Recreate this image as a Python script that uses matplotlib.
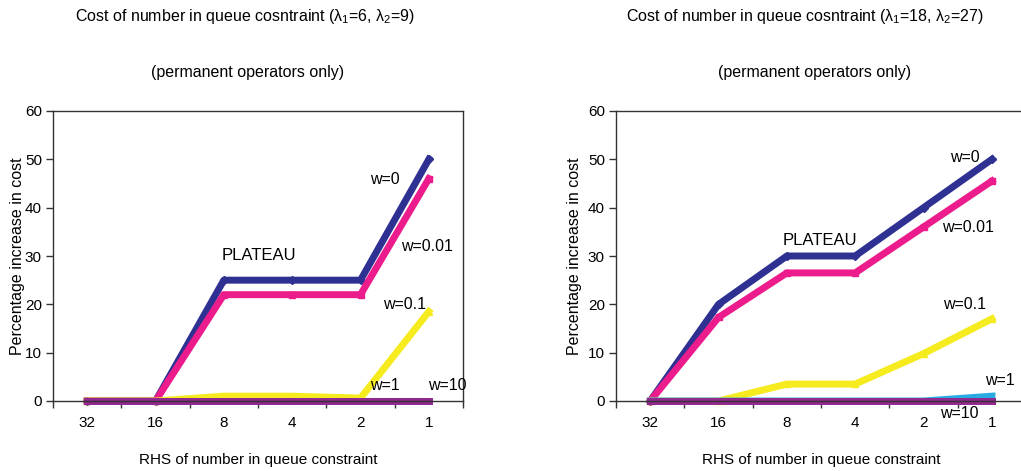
import matplotlib
matplotlib.use('Agg')
import matplotlib.pyplot as plt
from matplotlib.ticker import FixedLocator

plt.rcParams['font.family'] = ['Liberation Sans', 'DejaVu Sans']
plt.rcParams['mathtext.fontset'] = 'custom'
plt.rcParams['mathtext.rm'] = 'Liberation Sans'
plt.rcParams['mathtext.it'] = 'Liberation Sans'

# data
rhs = ['32', '16', '8', '4', '2', '1']
labels = ['w=0', 'w=0.01', 'w=0.1', 'w=1', 'w=10']
colors = ['#2E3192', '#EC1C8C', '#F5EB1E', '#29ABE2', '#92278F']
markers = ['D', 's', '^', 'x', '*']

left_w0 = [0, 0, 25, 25, 25, 50]
left_w001 = [0, 0, 22, 22, 22, 46]
left_w01 = [0, 0, 1, 1, 0.6, 18.5]
left_w1 = [0, 0, 0, 0, 0, 0]
left_w10 = [0, 0, 0, 0, 0, 0]

right_w0 = [0, 20, 30, 30, 40, 50]
right_w001 = [0, 17.3, 26.5, 26.5, 36, 45.5]
right_w01 = [0, 0, 3.5, 3.5, 9.8, 17]
right_w1 = [0, 0, 0, 0, 0, 1]
right_w10 = [0, 0, 0, 0, 0, 0]

fig = plt.figure(figsize=(10.21, 4.71), dpi=100)
ax1 = fig.add_axes([53 / 1021, 70 / 471, 410 / 1021, 290 / 471])
ax2 = fig.add_axes([616 / 1021, 70 / 471, 410 / 1021, 290 / 471])


def draw(ax, series, notes, ylab_x):
    x = range(len(rhs))
    for ys, c, m in zip(series, colors, markers):
        ax.plot(x, ys, color=c, lw=5, marker=m, ms=4, mew=1, clip_on=False)
    ax.set_xlim(-0.5, 5.5)
    ax.set_ylim(0, 60)
    ax.set_yticks(range(0, 61, 10))
    ax.set_xticks(range(len(rhs)))
    ax.set_xticklabels(rhs)
    ax.xaxis.set_minor_locator(FixedLocator([i - 0.5 for i in range(7)]))
    ax.tick_params(axis='x', which='major', length=0, pad=11, labelsize=11)
    ax.tick_params(axis='x', which='minor', length=5, width=1, color='#333333')
    ax.tick_params(axis='y', length=5, width=1, color='#333333', labelsize=11, pad=3)
    for s in ax.spines.values():
        s.set_color('#333333')
        s.set_linewidth(1)
    ax.set_ylabel('Percentage increase in cost', fontsize=11.5)
    ax.set_xlabel('RHS of number in queue constraint', fontsize=11)
    ax.yaxis.set_label_coords(ylab_x, 0.5)
    ax.xaxis.set_label_coords(0.5, -0.178)
    for txt, tx, ty in notes:
        ax.text(tx, ty, txt, ha='center', va='center', fontsize=12 if txt == 'PLATEAU' else 11.5)


draw(ax1, [left_w0, left_w001, left_w01, left_w1, left_w10],
     [('PLATEAU', 2.52, 30), ('w=0', 4.36, 45.8), ('w=0.01', 4.98, 31.9),
      ('w=0.1', 4.64, 19.9), ('w=1', 4.36, 3.3), ('w=10', 5.27, 3.3)], -0.068)
draw(ax2, [right_w0, right_w001, right_w01, right_w1, right_w10],
     [('PLATEAU', 2.49, 33.3), ('w=0', 4.6, 50.3), ('w=0.01', 4.65, 36),
      ('w=0.1', 4.6, 20), ('w=1', 5.12, 4.3), ('w=10', 4.53, -2.5)], -0.082)

fig.text(245 / 1021, 1 - 17 / 471, r'Cost of number in queue cosntraint ($\lambda_1$=6, $\lambda_2$=9)',
         ha='center', va='center', fontsize=11.5)
fig.text(248 / 1021, 1 - 73 / 471, '(permanent operators only)', ha='center', va='center', fontsize=11.5)
fig.text(805 / 1021, 1 - 17 / 471, r'Cost of number in queue cosntraint ($\lambda_1$=18, $\lambda_2$=27)',
         ha='center', va='center', fontsize=11.5)
fig.text(815 / 1021, 1 - 73 / 471, '(permanent operators only)', ha='center', va='center', fontsize=11.5)

fig.savefig('out.png', dpi=100)
